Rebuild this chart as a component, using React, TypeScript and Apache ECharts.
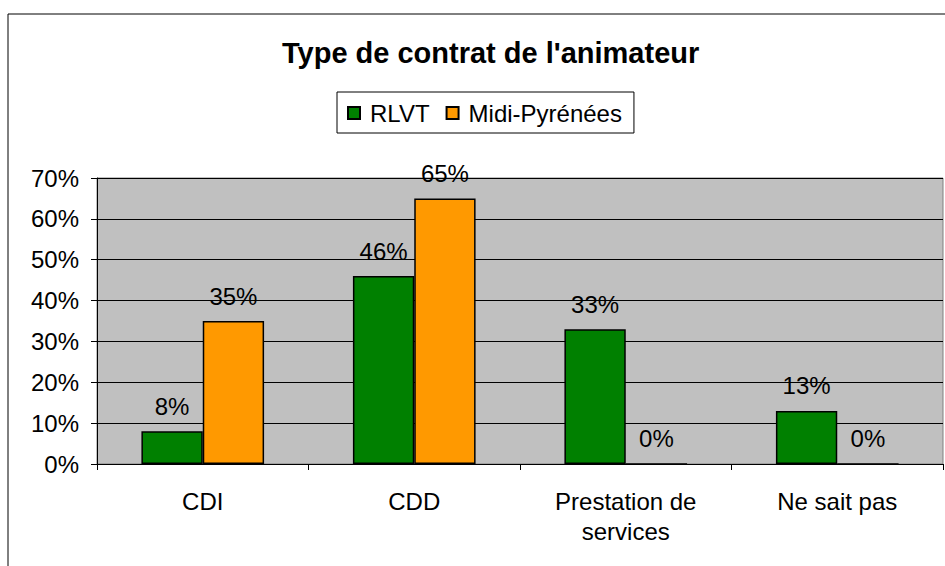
import React, { useEffect, useRef } from "react";
import * as echarts from "echarts";

const categories = ["CDI", "CDD", "Prestation de\nservices", "Ne sait pas"];
const rlvt = [8, 46, 33, 13];
const midiPyrenees = [35, 65, 0, 0];
const seriesNames = ["RLVT", "Midi-Pyrénées"];
const chartTitle = "Type de contrat de l'animateur";

const FONT = "Liberation Sans, Arial, sans-serif";

export default function App() {
  const ref = useRef<HTMLDivElement>(null);
  useEffect(() => {
    if (!ref.current) return;
    const chart = echarts.init(ref.current, undefined, { renderer: "svg" });
    const label = {
      show: true,
      position: "top",
      distance: 13,
      formatter: "{c}%",
      color: "#000",
      fontSize: 24,
      fontFamily: FONT,
    };
    chart.setOption({
      animation: false,
      backgroundColor: "#fff",
      textStyle: { fontFamily: FONT },
      title: {
        text: chartTitle,
        left: 277,
        top: 33,
        textStyle: { fontSize: 29, fontWeight: "bold", color: "#000", fontFamily: FONT },
      },
      graphic: [
        {
          type: "rect",
          shape: { x: 8, y: 14, width: 960, height: 580 },
          style: { fill: "none", stroke: "#000", lineWidth: 1 },
          silent: true,
          z: -10,
        },
      ],
      legend: {
        left: 337,
        top: 92,
        data: seriesNames,
        itemWidth: 12,
        itemHeight: 12,
        itemGap: 16,
        borderColor: "#000",
        borderWidth: 1,
        padding: [9, 12, 8, 10],
        icon: "rect",
        textStyle: { fontSize: 24, color: "#000", fontFamily: FONT, padding: [0, 0, 0, 5] },
      },
      grid: {
        left: 97,
        top: 178,
        right: 2,
        bottom: 102,
        show: true,
        backgroundColor: "#C0C0C0",
        borderColor: "#808080",
        borderWidth: 1,
      },
      xAxis: {
        type: "category",
        data: categories,
        axisLine: { show: true, lineStyle: { color: "#000", width: 1 } },
        axisTick: { show: true, length: 6, interval: 0, lineStyle: { color: "#000" } },
        axisLabel: {
          interval: 0,
          margin: 22,
          fontSize: 24,
          lineHeight: 30,
          color: "#000",
          fontFamily: FONT,
        },
      },
      yAxis: {
        type: "value",
        min: 0,
        max: 70,
        interval: 10,
        axisLine: { show: true, lineStyle: { color: "#000", width: 1 } },
        axisTick: { show: true, length: 6, lineStyle: { color: "#000" } },
        axisLabel: {
          formatter: "{value}%",
          margin: 18,
          fontSize: 24,
          color: "#000",
          fontFamily: FONT,
        },
        splitLine: { show: true, lineStyle: { color: "#000", width: 1 } },
      },
      series: [
        {
          name: seriesNames[0],
          type: "bar",
          data: rlvt,
          barGap: "0%",
          barCategoryGap: "42%",
          itemStyle: { color: "#008000", borderColor: "#000", borderWidth: 1.5 },
          label,
        },
        {
          name: seriesNames[1],
          type: "bar",
          data: midiPyrenees,
          barGap: "0%",
          barCategoryGap: "42%",
          itemStyle: { color: "#FF9900", borderColor: "#000", borderWidth: 1.5 },
          label,
        },
      ],
    });
    return () => chart.dispose();
  }, []);
  return (
    <div
      ref={ref}
      style={{ position: "fixed", left: 0, top: 0, width: 945, height: 566 }}
    />
  );
}
